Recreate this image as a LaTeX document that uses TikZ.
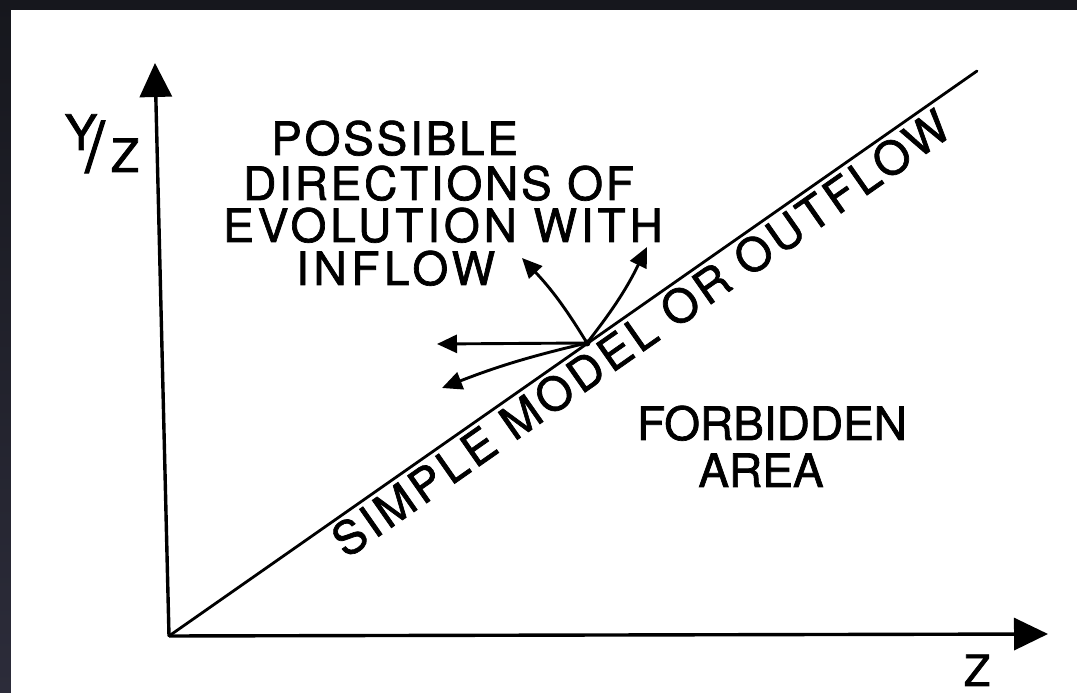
\documentclass[tikz,border=0pt]{standalone}
\usepackage{fontspec}
\setmainfont{TeX Gyre Heros}
\newfontfamily\lettering[LetterSpace=6, FakeBold=1.5]{TeX Gyre Heros}
\newfontfamily\letteringw[LetterSpace=8.5, FakeBold=1.5]{TeX Gyre Heros}
\newfontfamily\letteringx[LetterSpace=10, FakeBold=1.5]{TeX Gyre Heros}
\newfontfamily\letteringp[FakeBold=1.5]{TeX Gyre Heros}
\usetikzlibrary{arrows.meta}
\definecolor{bgdark}{HTML}{16171D}
\definecolor{bgleft}{HTML}{2C2C3A}
\begin{document}
\begin{tikzpicture}[x=1pt,y=1pt,
  lbl/.style={inner sep=0pt, font=\lettering\fontsize{46}{46}\selectfont},
  lblw/.style={inner sep=0pt, font=\letteringw\fontsize{46}{46}\selectfont},
  lblx/.style={inner sep=0pt, font=\letteringx\fontsize{46}{46}\selectfont},
  plain/.style={inner sep=0pt, font=\letteringp\fontsize{46}{46}\selectfont},
  axis/.style={line width=3.4pt, -{Triangle[length=34pt,width=32pt]}},
  dir/.style={line width=2.9pt, -{Triangle[length=20pt,width=18pt]}},
]
\fill[bgdark] (0,0) rectangle (1077,693);
\shade[top color=bgdark, bottom color=bgleft] (0,0) rectangle (11,693);
\fill[white] (11,0) rectangle (1077,683);
\useasboundingbox (0,0) rectangle (1077,693);

% axes
\coordinate (o) at (169,57);
\coordinate (ytip) at (155,630);
\coordinate (xtip) at (1048,59);
\coordinate (dtop) at (977,622);
\draw[axis] (o) -- (ytip);
\draw[axis] (o) -- (xtip);
\draw[line width=2.8pt, line cap=round] (o) -- (dtop)
  node[pos=0.568, sloped, anchor=north, inner sep=3pt, font=\letteringw\fontsize{46}{46}\selectfont] (diaglbl) {SIMPLE MODEL OR OUTFLOW};

% axis labels
\node[plain, anchor=base, font=\letteringp\fontsize{49}{49}\selectfont] (ylbl) at (81,543) {Y};
\node[plain, font=\letteringp\fontsize{70}{70}\selectfont] (slash) at (95,546) {/};
\node[plain, anchor=base] (zlbl) at (125,521) {Z};
\node[plain, anchor=base, font=\letteringp\fontsize{43}{43}\selectfont] (xlbl) at (977,7) {Z};

% text
\node[lbl, anchor=base west] (t1) at (271,538) {POSSIBLE};
\node[lbl, anchor=base west] (t2) at (243,493) {DIRECTIONS OF};
\node[lblw, anchor=base west] (t3) at (223,451) {EVOLUTION WITH};
\node[lblx, anchor=base west] (t4) at (296,408) {INFLOW};
\node[plain, anchor=base] (f1) at (772,253) {FORBIDDEN};
\node[plain, anchor=base] (f2) at (761,206) {AREA};

% directions
\node[circle, fill=black, inner sep=0pt, minimum size=7pt] (p) at (587,350) {};
\coordinate (aL) at (437,349);
\coordinate (aLL) at (442,305);
\coordinate (aUL) at (522,435);
\coordinate (aUR) at (647,446);
\draw[dir] (p.center) -- (aL);
\draw[dir] (p.center) to[bend right=4] (aLL);
\draw[dir] (p.center) to[bend right=6] (aUL);
\draw[dir] (p.center) to[bend right=6] (aUR);
\end{tikzpicture}
\end{document}
